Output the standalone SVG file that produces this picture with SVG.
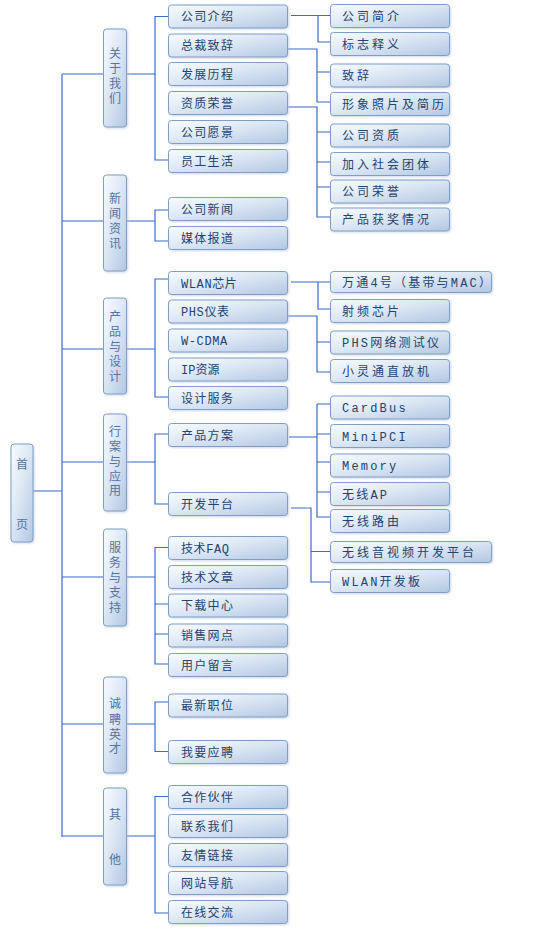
<svg xmlns="http://www.w3.org/2000/svg" width="550" height="931" viewBox="0 0 550 931">
<defs>
<linearGradient id="g" x1="0" y1="0" x2="1" y2="1">
<stop offset="0" stop-color="#f8fbff"/>
<stop offset="0.45" stop-color="#dde8f5"/>
<stop offset="1" stop-color="#b3c7e2"/>
</linearGradient>
<filter id="sh" x="-20%" y="-20%" width="140%" height="140%">
<feDropShadow dx="1" dy="1" stdDeviation="1" flood-color="#aabfdc" flood-opacity="0.6"/>
</filter>
<style>
rect{fill:url(#g);stroke:#7f9dc7;stroke-width:1;filter:url(#sh)}
text{font-family:"Liberation Mono","Noto Sans CJK SC",monospace;font-size:12px;fill:#23436f}
.v{fill:#56729e;text-anchor:middle;font-size:12px}
.a{letter-spacing:1.3px}
.am{letter-spacing:0.6px}
.b{letter-spacing:3px}
.bm{letter-spacing:2.2px}
#conn path{fill:none;stroke:#3c68c6;stroke-width:1.2}
</style>
</defs>
<g id="conn">
<path d="M33 491H62M62 74V837"/>
<path d="M62 74H103.5M62 221H103.5M62 349H103.5M62 462H103.5M62 577H103.5M62 724H103.5M62 836H103.5"/>
<path d="M126.5 74H155M126.5 221H155M126.5 349H155M126.5 462H155M126.5 577H155M126.5 724H155M126.5 836H155"/>
<path d="M168.5 16.5H155V160H168.5"/>
<path d="M168.5 210H155V241H168.5"/>
<path d="M168.5 279H155V397H168.5"/>
<path d="M168.5 434H155V504H168.5"/>
<path d="M168.5 547.5H155V664H168.5M155 604H168.5M155 634H168.5"/>
<path d="M168.5 702H155V751.5H168.5"/>
<path d="M168.5 796.5H155V913H168.5"/>
<path d="M291 15.5H330.5M318 15.5V42H330.5"/>
<path d="M287.5 49H317V102H330.5M317 72H330.5"/>
<path d="M287.5 107H317V217H330.5M317 132H330.5M317 162H330.5M317 187H330.5"/>
<path d="M291 282H330.5M318 282V309H330.5"/>
<path d="M287.5 316H317V372H330.5M317 342H330.5"/>
<path d="M289 437H317M317 404V517H330.5M317 404H330.5M317 434H330.5M317 462H330.5M317 492H330.5"/>
<path d="M291 508H311V582H330.5M311 551.5H330.5"/>
</g>
<g id="home"><rect x="11" y="444" width="22" height="98" rx="3"/><text class="v" x="22" y="469">首</text><text class="v" x="22" y="529">页</text></g>
<g id="about"><rect x="103.5" y="29" width="23" height="98" rx="3"/><text class="v" x="115" y="57.5">关</text><text class="v" x="115" y="72.5">于</text><text class="v" x="115" y="87.5">我</text><text class="v" x="115" y="102.5">们</text></g>
<g id="news"><rect x="103.5" y="175" width="23" height="96" rx="3"/><text class="v" x="115" y="202.5">新</text><text class="v" x="115" y="217.5">闻</text><text class="v" x="115" y="233">资</text><text class="v" x="115" y="247.5">讯</text></g>
<g id="products"><rect x="103.5" y="298" width="23" height="96" rx="3"/><text class="v" x="115" y="321">产</text><text class="v" x="115" y="336">品</text><text class="v" x="115" y="350.5">与</text><text class="v" x="115" y="366">设</text><text class="v" x="115" y="381">计</text></g>
<g id="solutions"><rect x="103.5" y="414" width="23" height="97" rx="3"/><text class="v" x="115" y="436">行</text><text class="v" x="115" y="451">案</text><text class="v" x="115" y="465.5">与</text><text class="v" x="115" y="481">应</text><text class="v" x="115" y="494.5">用</text></g>
<g id="service"><rect x="103.5" y="529" width="23" height="97" rx="3"/><text class="v" x="115" y="552">服</text><text class="v" x="115" y="567">务</text><text class="v" x="115" y="581.5">与</text><text class="v" x="115" y="597">支</text><text class="v" x="115" y="611.5">持</text></g>
<g id="jobs"><rect x="103.5" y="677" width="23" height="96" rx="3"/><text class="v" x="115" y="708">诚</text><text class="v" x="115" y="723.5">聘</text><text class="v" x="115" y="738.5">英</text><text class="v" x="115" y="753">才</text></g>
<g id="other"><rect x="103.5" y="788" width="23" height="97" rx="3"/><text class="v" x="115" y="819">其</text><text class="v" x="115" y="864">他</text></g>
<g id="n-gsjs"><rect x="168.5" y="5" width="119" height="23" rx="3"/><text class="a" x="181" y="21">公司介绍</text></g>
<g id="n-zczc"><rect x="168.5" y="34" width="119" height="23" rx="3"/><text class="a" x="181" y="50">总裁致辞</text></g>
<g id="n-fzlc"><rect x="168.5" y="62.5" width="119" height="23" rx="3"/><text class="a" x="181" y="78.5">发展历程</text></g>
<g id="n-zzry"><rect x="168.5" y="91.5" width="119" height="23" rx="3"/><text class="a" x="181" y="107.5">资质荣誉</text></g>
<g id="n-gsyj"><rect x="168.5" y="120.5" width="119" height="23" rx="3"/><text class="a" x="181" y="136.5">公司愿景</text></g>
<g id="n-yggh"><rect x="168.5" y="149.5" width="119" height="23" rx="3"/><text class="a" x="181" y="165.5">员工生活</text></g>
<g id="n-gsxw"><rect x="168.5" y="197.5" width="119" height="23" rx="3"/><text class="a" x="181" y="213.5">公司新闻</text></g>
<g id="n-mtbd"><rect x="168.5" y="226.5" width="119" height="23" rx="3"/><text class="a" x="181" y="242.5">媒体报道</text></g>
<g id="n-wlan"><rect x="168.5" y="271.5" width="119" height="23" rx="3"/><text class="am" x="181" y="287.5">WLAN芯片</text></g>
<g id="n-phs"><rect x="168.5" y="300" width="119" height="23" rx="3"/><text class="am" x="181" y="316">PHS仪表</text></g>
<g id="n-wcdma"><rect x="168.5" y="329" width="119" height="23" rx="3"/><text class="am" x="181" y="345">W-CDMA</text></g>
<g id="n-ip"><rect x="168.5" y="358" width="119" height="23" rx="3"/><text x="181" y="374">IP资源</text></g>
<g id="n-sjfw"><rect x="168.5" y="386.5" width="119" height="23" rx="3"/><text class="a" x="181" y="402.5">设计服务</text></g>
<g id="n-cpfa"><rect x="168.5" y="423.5" width="119" height="23" rx="3"/><text class="a" x="181" y="439.5">产品方案</text></g>
<g id="n-kfpt"><rect x="168.5" y="492.5" width="119" height="23" rx="3"/><text class="a" x="181" y="508.5">开发平台</text></g>
<g id="n-faq"><rect x="168.5" y="536.5" width="119" height="23" rx="3"/><text class="am" x="181" y="552.5">技术FAQ</text></g>
<g id="n-jswz"><rect x="168.5" y="565.5" width="119" height="23" rx="3"/><text class="a" x="181" y="581.5">技术文章</text></g>
<g id="n-xzzx"><rect x="168.5" y="594" width="119" height="23" rx="3"/><text class="a" x="181" y="610">下载中心</text></g>
<g id="n-xswd"><rect x="168.5" y="624" width="119" height="23" rx="3"/><text class="a" x="181" y="640">销售网点</text></g>
<g id="n-yhly"><rect x="168.5" y="653.5" width="119" height="23" rx="3"/><text class="a" x="181" y="669.5">用户留言</text></g>
<g id="n-zxzw"><rect x="168.5" y="694" width="119" height="23" rx="3"/><text class="a" x="181" y="710">最新职位</text></g>
<g id="n-wyyp"><rect x="168.5" y="740.5" width="119" height="23" rx="3"/><text class="a" x="181" y="756.5">我要应聘</text></g>
<g id="n-hzhb"><rect x="168.5" y="785.5" width="119" height="23" rx="3"/><text class="a" x="181" y="801.5">合作伙伴</text></g>
<g id="n-lxwm"><rect x="168.5" y="814.5" width="119" height="23" rx="3"/><text class="a" x="181" y="830.5">联系我们</text></g>
<g id="n-yqlj"><rect x="168.5" y="843.5" width="119" height="23" rx="3"/><text class="a" x="181" y="859.5">友情链接</text></g>
<g id="n-wzdh"><rect x="168.5" y="871.5" width="119" height="23" rx="3"/><text class="a" x="181" y="887.5">网站导航</text></g>
<g id="n-zxjl"><rect x="168.5" y="900.5" width="119" height="23" rx="3"/><text class="a" x="181" y="916.5">在线交流</text></g>
<g id="m-gsjj"><rect x="330.5" y="4.5" width="119" height="23" rx="3"/><text class="b" x="342" y="20.5">公司简介</text></g>
<g id="m-bzsy"><rect x="330.5" y="32.5" width="119" height="23" rx="3"/><text class="b" x="342" y="48.5">标志释义</text></g>
<g id="m-zc"><rect x="330.5" y="64" width="119" height="23" rx="3"/><text class="b" x="342" y="80">致辞</text></g>
<g id="m-xxzp"><rect x="330.5" y="92.5" width="119" height="23" rx="3"/><text class="b" x="342" y="108.5">形象照片及简历</text></g>
<g id="m-gszz"><rect x="330.5" y="124" width="119" height="23" rx="3"/><text class="b" x="342" y="140">公司资质</text></g>
<g id="m-jrsh"><rect x="330.5" y="152.5" width="119" height="23" rx="3"/><text class="b" x="342" y="168.5">加入社会团体</text></g>
<g id="m-gsry"><rect x="330.5" y="180" width="119" height="23" rx="3"/><text class="b" x="342" y="196">公司荣誉</text></g>
<g id="m-cphj"><rect x="330.5" y="208" width="119" height="23" rx="3"/><text class="b" x="342" y="224">产品获奖情况</text></g>
<g id="m-wt4"><rect x="330.5" y="271.5" width="161" height="21" rx="3"/><text class="bm" x="342" y="286.5">万通4号（基带与MAC）</text></g>
<g id="m-spxp"><rect x="330.5" y="299.5" width="119" height="23" rx="3"/><text class="b" x="342" y="315.5">射频芯片</text></g>
<g id="m-phswl"><rect x="330.5" y="331" width="119" height="23" rx="3"/><text class="bm" x="342" y="347">PHS网络测试仪</text></g>
<g id="m-xlt"><rect x="330.5" y="359.5" width="119" height="23" rx="3"/><text class="b" x="342" y="375.5">小灵通直放机</text></g>
<g id="m-cardbus"><rect x="330.5" y="396" width="119" height="23" rx="3"/><text class="bm" x="342" y="412">CardBus</text></g>
<g id="m-minipci"><rect x="330.5" y="424.5" width="119" height="23" rx="3"/><text class="bm" x="342" y="440.5">MiniPCI</text></g>
<g id="m-memory"><rect x="330.5" y="454" width="119" height="23" rx="3"/><text class="bm" x="342" y="470">Memory</text></g>
<g id="m-wxap"><rect x="330.5" y="482.5" width="119" height="23" rx="3"/><text class="bm" x="342" y="498.5">无线AP</text></g>
<g id="m-wxly"><rect x="330.5" y="509.5" width="119" height="23" rx="3"/><text class="b" x="342" y="525.5">无线路由</text></g>
<g id="m-wxyp"><rect x="330.5" y="541.5" width="161" height="21" rx="3"/><text class="b" x="342" y="556.5">无线音视频开发平台</text></g>
<g id="m-wlankfb"><rect x="330.5" y="569.5" width="119" height="23" rx="3"/><text class="bm" x="342" y="585.5">WLAN开发板</text></g>
</svg>
